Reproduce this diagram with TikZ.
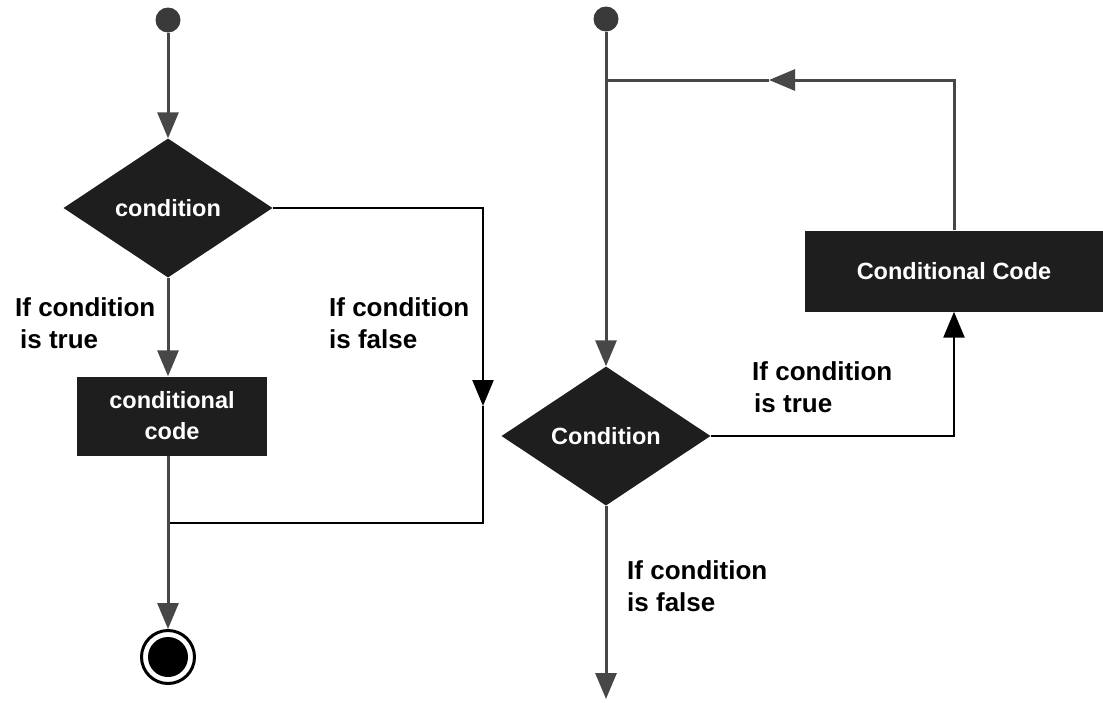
\documentclass[tikz,border=0pt]{standalone}
\usepackage{fontspec}
\setmainfont{Liberation Sans}
\usetikzlibrary{shapes.geometric,arrows.meta}
\definecolor{ln}{HTML}{474747}
\definecolor{fillc}{HTML}{1E1E1E}
\definecolor{dotc}{HTML}{3A3A3A}
\begin{document}
\begin{tikzpicture}[x=1pt,y=-1pt,
  conn/.style={draw=ln,line width=3pt},
  blk/.style={draw=black,line width=2.5pt},
  tip/.style={-{Triangle[length=26pt,width=21pt]}},
  dia/.style={diamond,fill=fillc,minimum width=209pt,minimum height=139pt,inner sep=0pt,
    text=white,font=\bfseries\fontsize{23.5}{28}\selectfont},
  codebox/.style={rectangle,fill=fillc,inner sep=0pt,text=white,align=center,
    font=\bfseries\fontsize{23.5}{31}\selectfont},
  startdot/.style={circle,fill=dotc,minimum size=25pt,inner sep=0pt},
  lbl/.style={anchor=north west,inner sep=0pt,align=left,
    font=\bfseries\fontsize{26}{32}\selectfont}]
\useasboundingbox (0,0) rectangle (1103,702);
\fill[white] (0,0) rectangle (1103,702);

% ---------- left: if ----------
\node[startdot] (s1) at (168,20) {};
\node[dia] (d1) at (168,208) {condition};
\node[codebox,minimum width=190pt,minimum height=79pt] (b1) at (172,416) {conditional\\code};
\node[circle,draw=black,line width=3pt,fill=white,minimum size=53pt,inner sep=0pt] (e1) at (168,657) {};
\node[circle,fill=black,minimum size=40pt,inner sep=0pt] (e1c) at (e1) {};
\coordinate (fa) at (483,406);
\coordinate (jl) at (168,523);

\draw[conn,tip] (s1) -- (d1);
\draw[conn,tip] (d1.south) -- (d1.south |- b1.north);
\draw[blk,tip] (d1.east) -| (fa);
\draw[blk] (fa) |- (jl);
\draw[conn] (b1.south -| jl) -- (jl);
\draw[conn,tip] (jl) -- (e1.north);

\node[lbl] (l1) at (15,297) {If condition\\\hspace{5pt}is true};
\node[lbl] (l2) at (329,297) {If condition\\is false};

% ---------- right: while ----------
\node[startdot] (s2) at (606,19) {};
\node[dia] (d2) at (606,436) {Condition};
\node[codebox,minimum width=298pt,minimum height=81pt] (b2) at (954,271) {Conditional Code};
\coordinate (la) at (769,80);
\coordinate (jr) at (606,80);
\coordinate (endr) at (606,699);

\draw[conn,tip] (s2) -- (d2);
\draw[conn,tip] (b2.north) |- (la);
\draw[conn] (la) -- (jr);
\draw[blk,tip] (d2.east) -| (b2.south);
\draw[conn,tip] (d2.south) -- (endr);

\node[lbl] (l3) at (752,361) {If condition\\\hspace{2pt}is true};
\node[lbl] (l4) at (627,560) {If condition\\is false};
\end{tikzpicture}
\end{document}
